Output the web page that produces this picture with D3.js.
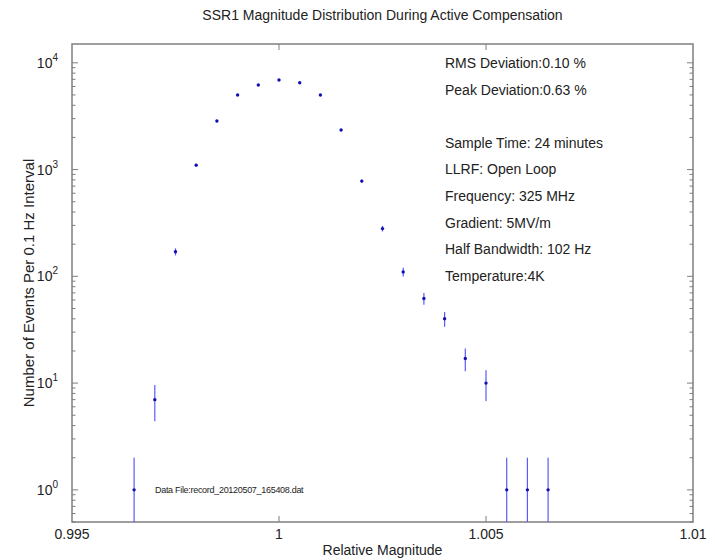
<!DOCTYPE html>
<html>
<head>
<meta charset="utf-8">
<script src="https://cdn.jsdelivr.net/npm/d3@7"></script>
<style>
  body { margin: 0; background: #fff; }
  text { font-family: "Liberation Sans", Arial, sans-serif; fill: #222; }
</style>
</head>
<body>
<svg width="715" height="560"></svg>
<script>
// bin centres (relative magnitude), counts and error bar half widths
var magnitude = [0.9965, 0.997, 0.9975, 0.998, 0.9985, 0.999, 0.9995, 1.0, 1.0005, 1.001,
                 1.0015, 1.002, 1.0025, 1.003, 1.0035, 1.004, 1.0045, 1.005, 1.0055, 1.006, 1.0065];
var counts = [1, 7, 170, 1100, 2850, 5000, 6200, 6900, 6500, 5000,
              2350, 780, 280, 110, 62, 40, 17, 10, 1, 1, 1];
var errors = [1, 2.6, 13, 33, 53, 71, 79, 83, 81, 71,
              48, 28, 17, 10.5, 7.9, 6.3, 4.1, 3.2, 1, 1, 1];

var xTicks = [0.995, 1, 1.005, 1.01];
var yTicks = [1, 10, 100, 1000, 10000];

var notes = ["RMS Deviation:0.10 %", "Peak Deviation:0.63 %", "",
             "Sample Time: 24 minutes", "LLRF: Open Loop", "Frequency: 325 MHz",
             "Gradient: 5MV/m", "Half Bandwidth: 102 Hz", "Temperature:4K"];

var margin = {left: 72, right: 22, top: 44, bottom: 38};
var width = 715 - margin.left - margin.right,
    height = 560 - margin.top - margin.bottom;

var svg = d3.select("svg");
var g = svg.append("g").attr("transform", "translate(" + margin.left + "," + margin.top + ")");

var x = d3.scaleLinear().domain([0.995, 1.01]).range([0, width]);
var y = d3.scaleLog().domain([0.5, 15000]).range([height, 0]);

// minor ticks for log axis
var minor = [];
for (var e = -1; e <= 4; e++) {
    for (var m = 2; m <= 9; m++) {
        var v = m * Math.pow(10, e);
        if (v >= 0.5 && v <= 15000) minor.push(v);
    }
}

var axisColor = "#7f7f7f";

// frame
g.append("rect")
    .attr("width", width).attr("height", height)
    .attr("fill", "none").attr("stroke", axisColor).attr("stroke-width", 1.5);

// x ticks, inward at bottom and top
g.selectAll(".xt").data(xTicks.slice(1, -1)).enter().append("path")
    .attr("d", function (d) {
        var px = x(d);
        return "M" + px + "," + height + "V" + (height - 6) + "M" + px + ",0V6";
    })
    .attr("stroke", axisColor);

// y ticks left and right
g.selectAll(".yt").data(yTicks).enter().append("path")
    .attr("d", function (d) {
        var py = y(d);
        return "M0," + py + "H6M" + width + "," + py + "H" + (width - 6);
    })
    .attr("stroke", axisColor);
g.selectAll(".ym").data(minor).enter().append("path")
    .attr("d", function (d) {
        var py = y(d);
        return "M0," + py + "H3.5M" + width + "," + py + "H" + (width - 3.5);
    })
    .attr("stroke", axisColor);

// x tick labels
g.selectAll(".xl").data(xTicks).enter().append("text")
    .attr("x", function (d) { return x(d); })
    .attr("y", height + 17)
    .attr("text-anchor", "middle")
    .attr("font-size", 14)
    .text(function (d) { return d3.format("")(d); });

// y tick labels 10^n
var yl = g.selectAll(".yl").data(yTicks).enter().append("text")
    .attr("x", -14)
    .attr("y", function (d) { return y(d) + 5; })
    .attr("text-anchor", "end")
    .attr("font-size", 14);
yl.append("tspan").text("10");
yl.append("tspan").attr("dy", -7).attr("font-size", 10)
    .text(function (d) { return Math.round(Math.log10(d)); });

// error bars
var clampLow = function (v) { return Math.max(v, 0.5); };
g.selectAll(".err").data(counts).enter().append("line")
    .attr("x1", function (d, i) { return x(magnitude[i]); })
    .attr("x2", function (d, i) { return x(magnitude[i]); })
    .attr("y1", function (d, i) { return y(clampLow(d - errors[i])); })
    .attr("y2", function (d, i) { return y(d + errors[i]); })
    .attr("stroke", "#5a5aff")
    .attr("stroke-width", 1.2);

// points
g.selectAll(".pt").data(counts).enter().append("circle")
    .attr("cx", function (d, i) { return x(magnitude[i]); })
    .attr("cy", function (d) { return y(d); })
    .attr("r", 1.7)
    .attr("fill", "#1010b0");

// annotations
g.selectAll(".note").data(notes).enter().append("text")
    .attr("x", 373)
    .attr("y", function (d, i) { return 24 + i * 26.6; })
    .attr("font-size", 14)
    .text(function (d) { return d; });

g.append("text")
    .attr("x", 83).attr("y", height - 29)
    .attr("font-size", 9)
    .attr("letter-spacing", -0.3)
    .text("Data File:record_20120507_165408.dat");

// title and axis labels
svg.append("text")
    .attr("x", margin.left + width / 2).attr("y", 20)
    .attr("text-anchor", "middle").attr("font-size", 14)
    .text("SSR1 Magnitude Distribution During Active Compensation");

svg.append("text")
    .attr("x", margin.left + width / 2).attr("y", 555)
    .attr("text-anchor", "middle").attr("font-size", 14)
    .text("Relative Magnitude");

svg.append("text")
    .attr("transform", "translate(34," + (margin.top + height / 2) + ") rotate(-90)")
    .attr("text-anchor", "middle").attr("font-size", 15)
    .text("Number of Events Per 0.1 Hz Interval");
</script>
</body>
</html>
